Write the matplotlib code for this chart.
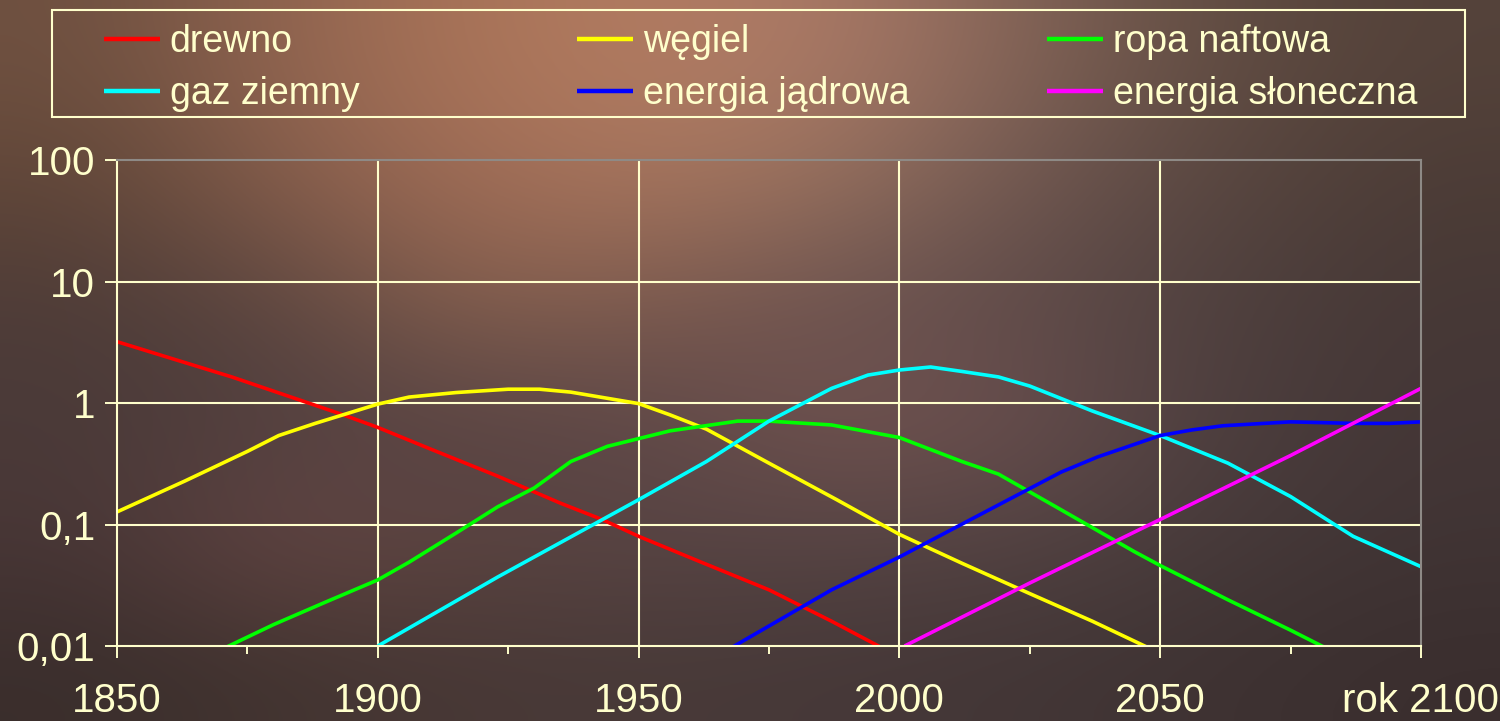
import numpy as np
import matplotlib
matplotlib.use("Agg")
import matplotlib.pyplot as plt
from matplotlib.patches import Rectangle

plt.rcParams["font.family"] = ["Liberation Sans", "DejaVu Sans"]

CREAM = "#FFFFCC"

# --- data (log scale values) ---
drewno_years = [1850, 1860, 1872, 1885, 1893, 1900, 1910, 1923, 1935, 1943, 1950, 1962, 1975, 1987, 1996, 2000]
drewno_vals = [3.2, 2.36, 1.64, 1.06, 0.81, 0.63, 0.42, 0.25, 0.15, 0.11, 0.08, 0.049, 0.029, 0.016, 0.01, 0.008]

wegiel_years = [1850, 1863, 1875, 1881, 1888, 1900, 1906, 1915, 1925, 1931, 1937, 1950, 1956, 1963, 1975,
                1988, 2000, 2012, 2025, 2037, 2050]
wegiel_vals = [0.127, 0.228, 0.40, 0.54, 0.68, 0.98, 1.12, 1.22, 1.3, 1.3, 1.23, 0.99, 0.8, 0.61, 0.32,
               0.16, 0.083, 0.048, 0.027, 0.016, 0.0087]

ropa_years = [1865, 1871, 1880, 1890, 1900, 1906, 1915, 1923, 1930, 1937, 1944, 1956, 1969, 1975, 1987,
              2000, 2012, 2019, 2030, 2045, 2050, 2063, 2075, 2081, 2090]
ropa_vals = [0.0075, 0.0098, 0.015, 0.023, 0.035, 0.049, 0.085, 0.14, 0.2, 0.33, 0.44, 0.59, 0.71, 0.71, 0.66,
             0.52, 0.33, 0.26, 0.14, 0.06, 0.046, 0.024, 0.0135, 0.01, 0.0065]

gaz_years = [1900, 1923, 1950, 1963, 1975, 1987, 1994, 2000, 2006, 2012, 2019, 2025, 2037, 2050, 2063,
             2075, 2087, 2100]
gaz_vals = [0.01, 0.037, 0.16, 0.33, 0.71, 1.32, 1.70, 1.87, 1.98, 1.82, 1.64, 1.38, 0.86, 0.54, 0.32,
            0.17, 0.08, 0.045]

jadrowa_years = [1960, 1968, 1987, 2000, 2019, 2031, 2038, 2050, 2056, 2062, 2075, 2087, 2094, 2100]
jadrowa_vals = [0.006, 0.0098, 0.029, 0.054, 0.145, 0.27, 0.36, 0.54, 0.60, 0.65, 0.70, 0.68, 0.68, 0.70]

sloneczna_years = [2001, 2025, 2050, 2075, 2100]
sloneczna_vals = [0.01, 0.033, 0.11, 0.37, 1.32]

labels = ["drewno", "węgiel", "ropa naftowa", "gaz ziemny", "energia jądrowa", "energia słoneczna"]
colors = ["#FF0000", "#FFFF00", "#00FF00", "#00FFFF", "#0000FF", "#FF00FF"]
series = [
    (drewno_years, drewno_vals),
    (wegiel_years, wegiel_vals),
    (ropa_years, ropa_vals),
    (gaz_years, gaz_vals),
    (jadrowa_years, jadrowa_vals),
    (sloneczna_years, sloneczna_vals),
]

x_ticks = [1850, 1900, 1950, 2000, 2050, 2100]
x_ticklabels = ["1850", "1900", "1950", "2000", "2050", "rok 2100"]
x_minor = [1875, 1925, 1975, 2025, 2075]
y_ticks = [0.01, 0.1, 1, 10, 100]
y_ticklabels = ["0,01", "0,1", "1", "10", "100"]

# --- background (sunset-like photo approximation) ---
bg_hex = [
    ["#6E5040", "#906450", "#AA7458", "#B27C62", "#A87866", "#806256", "#604C42", "#54423A"],
    ["#604638", "#865E4C", "#A06C56", "#A8765E", "#94705E", "#6E5650", "#584640", "#4C3C36"],
    ["#4E3C38", "#5C4640", "#86604E", "#7C5A4E", "#6A5250", "#5E4A48", "#4E403E", "#463836"],
    ["#4A3A38", "#524040", "#584444", "#5E4848", "#745450", "#684E4E", "#4C3E3E", "#443636"],
    ["#483636", "#664644", "#5C4440", "#584444", "#564444", "#524242", "#463A3A", "#403434"],
    ["#3A2E2C", "#423430", "#483836", "#483A38", "#463838", "#423636", "#3E3232", "#3A2E2E"],
]
bg = np.array([[matplotlib.colors.to_rgb(c) for c in row] for row in bg_hex])

fig = plt.figure(figsize=(15, 7.21), dpi=100)
bg_ax = fig.add_axes([0, 0, 1, 1], zorder=0)
bg_ax.imshow(bg, aspect="auto", interpolation="bicubic", extent=[0, 1, 0, 1])
bg_ax.set_axis_off()

ax = fig.add_axes([0.078, 0.104, 0.8693, 0.674], zorder=1)
ax.set_facecolor("none")

handles = []
for (xs, ys), lab, col in zip(series, labels, colors):
    h, = ax.plot(xs, ys, color=col, lw=2.6, label=lab, solid_capstyle="butt")
    handles.append(h)

ax.set_yscale("log")
ax.set_xlim(1850, 2100)
ax.set_ylim(0.01, 100)
ax.set_xticks(x_ticks)
ax.set_xticklabels(x_ticklabels)
ax.set_xticks(x_minor, minor=True)
ax.set_yticks(y_ticks)
ax.set_yticklabels(y_ticklabels)
ax.yaxis.set_minor_locator(matplotlib.ticker.NullLocator())

ax.tick_params(axis="both", which="major", direction="out", length=8.6, width=1.4,
               color=CREAM, labelcolor=CREAM, labelsize=29)
ax.tick_params(axis="x", which="major", pad=17)
ax.tick_params(axis="y", which="major", pad=7)
ax.tick_params(axis="x", which="minor", direction="out", length=6, width=1.4, color=CREAM)

ax.grid(True, which="major", color=CREAM, lw=1.5)
ax.set_axisbelow(True)
for t in (ax.xaxis.get_major_ticks()[0], ax.xaxis.get_major_ticks()[-1],
          ax.yaxis.get_major_ticks()[0], ax.yaxis.get_major_ticks()[-1]):
    t.gridline.set_visible(False)

for side in ("left", "bottom"):
    ax.spines[side].set_color(CREAM)
    ax.spines[side].set_linewidth(1.5)
for side in ("top", "right"):
    ax.spines[side].set_color("#8E8A86")
    ax.spines[side].set_linewidth(1.5)

# legend: three columns at equal pitch inside a cream frame
col_x = [104 / 1500, 577 / 1500, 1047 / 1500]
for i, cx in enumerate(col_x):
    hs = [handles[i], handles[i + 3]]
    leg = fig.legend(hs, [h.get_label() for h in hs], loc="upper left",
                     bbox_to_anchor=(cx, 1 - 24 / 721), frameon=False, fontsize=27,
                     borderpad=0, borderaxespad=0, handlelength=1.49, handletextpad=0.26,
                     labelspacing=0.43, labelcolor=CREAM)
    for ln in leg.get_lines():
        ln.set_linewidth(3.2)

fig.add_artist(Rectangle((52 / 1500, 1 - 117 / 721), (1465 - 52) / 1500, (117 - 10) / 721,
                         transform=fig.transFigure, fill=False, edgecolor=CREAM, lw=1.5, zorder=2))

fig.savefig("out.png", dpi=100)
